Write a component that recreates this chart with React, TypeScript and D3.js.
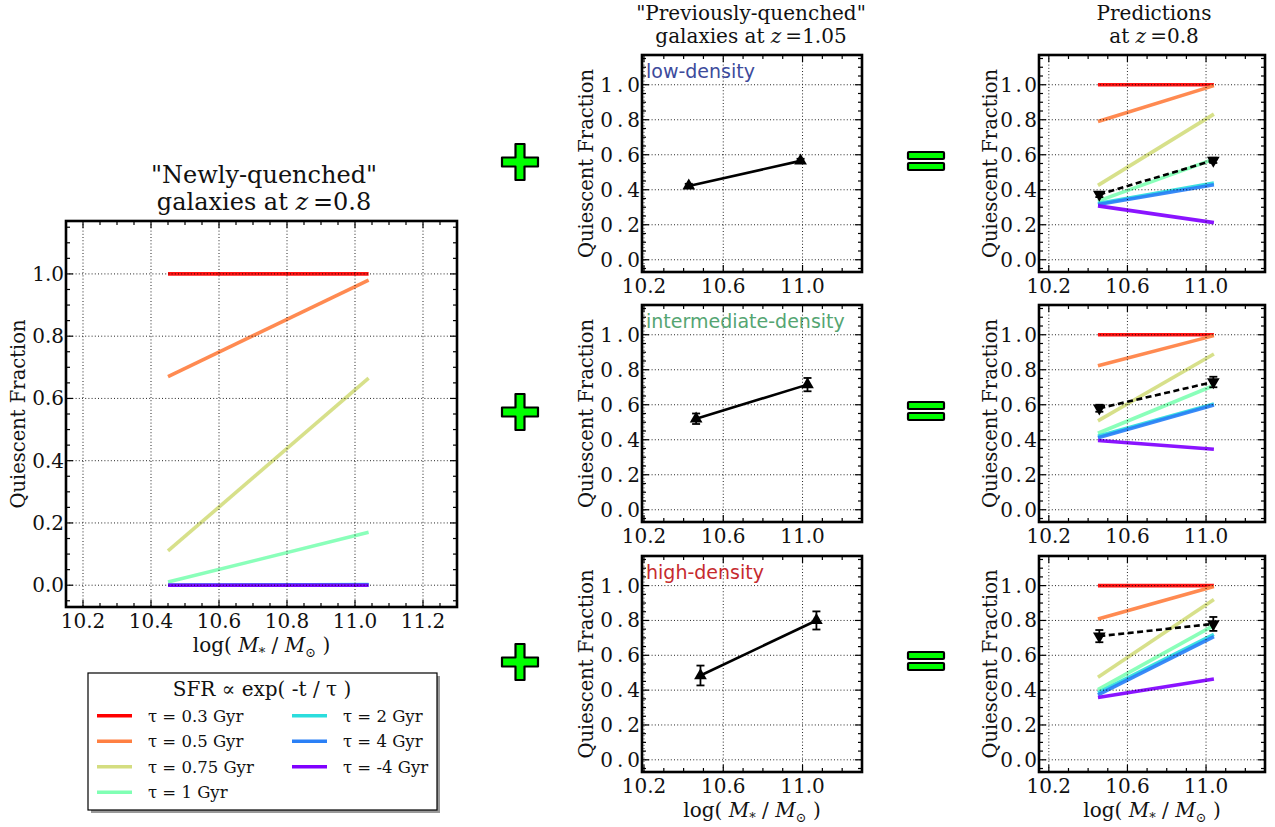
import React from "react";
import * as d3 from "d3";

// ---------------- data ----------------
const TAU_LABELS = ["τ = 0.3 Gyr", "τ = 0.5 Gyr", "τ = 0.75 Gyr", "τ = 1 Gyr", "τ = 2 Gyr", "τ = 4 Gyr", "τ = -4 Gyr"];
const TAU_COLORS = ["#ff0000", "#ff8042", "#d4dd80", "#80ffb4", "#2bdddd", "#2a80f6", "#8000ff"];
const MODEL_MASS = [10.45, 11.04];

const NEWLY_QUENCHED = [
  [1.0, 1.0],
  [0.67, 0.98],
  [0.11, 0.665],
  [0.01, 0.17],
  [0.0, 0.002],
  [0.0, 0.001],
  [0.0, 0.0],
];
const PRED_LOW = [
  [1.0, 1.0],
  [0.79, 0.995],
  [0.425, 0.832],
  [0.335, 0.575],
  [0.322, 0.438],
  [0.316, 0.428],
  [0.308, 0.212],
];
const PRED_MID = [
  [1.0, 1.0],
  [0.823, 0.995],
  [0.508, 0.89],
  [0.437, 0.71],
  [0.42, 0.605],
  [0.412, 0.598],
  [0.396, 0.346],
];
const PRED_HIGH = [
  [1.0, 1.0],
  [0.808, 0.995],
  [0.474, 0.92],
  [0.403, 0.772],
  [0.385, 0.72],
  [0.373, 0.707],
  [0.358, 0.464],
];

const PREV_LOW_MASS = [10.426, 10.99];
const PREV_LOW_FRAC = [0.422, 0.565];
const PREV_LOW_ERR = [0.012, 0.012];
const PREV_MID_MASS = [10.463, 11.025];
const PREV_MID_FRAC = [0.52, 0.715];
const PREV_MID_ERR = [0.03, 0.038];
const PREV_HIGH_MASS = [10.485, 11.07];
const PREV_HIGH_FRAC = [0.484, 0.8];
const PREV_HIGH_ERR = [0.057, 0.052];

const OBS_MASS = [10.457, 11.037];
const OBS_LOW_FRAC = [0.373, 0.568];
const OBS_LOW_ERR = [0.015, 0.015];
const OBS_MID_FRAC = [0.58, 0.73];
const OBS_MID_ERR = [0.02, 0.03];
const OBS_HIGH_FRAC = [0.71, 0.78];
const OBS_HIGH_ERR = [0.035, 0.04];

const DENSITY_LABELS = ["low-density", "intermediate-density", "high-density"];
const DENSITY_COLORS = ["#3d4b9c", "#55a572", "#c62a2e"];

const X_TICKS_WIDE = [10.2, 10.4, 10.6, 10.8, 11.0, 11.2];
const X_TICKS_NARROW = [10.2, 10.6, 11.0];
const Y_TICKS = [0.0, 0.2, 0.4, 0.6, 0.8, 1.0];
const Y_DOMAIN = [-0.07, 1.17];

const SERIF = "'DejaVu Serif', serif";
const SANS = "'DejaVu Sans', sans-serif";

type Series = { mass: number[]; frac: number[]; err: number[]; down: boolean; dashed: boolean };

type PanelProps = {
  x0: number;
  y0: number;
  w: number;
  h: number;
  xDomain: number[];
  xTicks: number[];
  xMinor: number;
  yLetterSpacing: number;
  models?: number[][];
  series?: Series;
  label?: string;
  labelColor?: string;
  yLabelX: number;
  showXLabel: boolean;
};

function MassLabel({ x, y }: { x: number; y: number }) {
  return (
    <text x={x} y={y} textAnchor="middle" fontFamily={SERIF} fontSize={20} fill="#111">
      log(
      <tspan fontStyle="italic">{"\u00a0M"}</tspan>
      <tspan fontSize={13} dy={5}>*</tspan>
      <tspan dy={-5}>{"\u00a0/\u00a0"}</tspan>
      <tspan fontStyle="italic">M</tspan>
      <tspan fontSize={13} dy={5}>⊙</tspan>
      <tspan dy={-5}>{"\u00a0)"}</tspan>
    </text>
  );
}

function Panel(p: PanelProps) {
  const xs = d3.scaleLinear().domain(p.xDomain).range([p.x0, p.x0 + p.w]);
  const ys = d3.scaleLinear().domain(Y_DOMAIN).range([p.y0 + p.h, p.y0]);
  const left = p.x0, right = p.x0 + p.w, top = p.y0, bottom = p.y0 + p.h;
  const xMinorTicks = d3
    .range(Math.ceil(p.xDomain[0] / p.xMinor - 1e-6), Math.floor(p.xDomain[1] / p.xMinor + 1e-6) + 1)
    .map((k) => k * p.xMinor);
  const yMinorTicks = d3.range(-1, 24).map((k) => k * 0.05).filter((v) => v >= Y_DOMAIN[0] && v <= Y_DOMAIN[1]);
  const line = d3.line<[number, number]>().x((d) => xs(d[0])).y((d) => ys(d[1]));
  const tri = d3.symbol(d3.symbolTriangle, 70)() as string;
  const major = 7, minor = 4;
  const cid = `clip-${p.x0}-${p.y0}`;
  return (
    <g>
      <rect x={left} y={top} width={p.w} height={p.h} fill="#fff" />
      <clipPath id={cid}>
        <rect x={left} y={top} width={p.w} height={p.h} />
      </clipPath>
      <g clipPath={`url(#${cid})`}>
        {p.models &&
          p.models.map((vals, i) => (
            <path
              key={i}
              d={line(MODEL_MASS.map((m, j) => [m, vals[j]]) as [number, number][]) as string}
              stroke={TAU_COLORS[i]}
              strokeWidth={3.6}
              fill="none"
              opacity={0.92}
            />
          ))}
        {p.series && (
          <g>
            <path
              d={line(p.series.mass.map((m, j) => [m, p.series!.frac[j]]) as [number, number][]) as string}
              stroke="#000"
              strokeWidth={2.6}
              fill="none"
              strokeDasharray={p.series.dashed ? "6,3.5" : undefined}
            />
            {p.series.mass.map((m, j) => {
              const cx = xs(m);
              const y1 = ys(p.series!.frac[j] + p.series!.err[j]);
              const y2 = ys(p.series!.frac[j] - p.series!.err[j]);
              return (
                <g key={j}>
                  <line x1={cx} x2={cx} y1={y1} y2={y2} stroke="#000" strokeWidth={1.8} />
                  <line x1={cx - 4} x2={cx + 4} y1={y1} y2={y1} stroke="#000" strokeWidth={1.8} />
                  <line x1={cx - 4} x2={cx + 4} y1={y2} y2={y2} stroke="#000" strokeWidth={1.8} />
                  <path
                    d={tri}
                    transform={`translate(${cx},${ys(p.series!.frac[j])}) rotate(${p.series!.down ? 180 : 0})`}
                    fill="#000"
                  />
                </g>
              );
            })}
          </g>
        )}
      </g>
      {/* grid */}
      <g stroke="#000" strokeWidth={1} strokeDasharray="1,2.2" opacity={0.85}>
        {p.xTicks.map((t) => (
          <line key={"gx" + t} x1={xs(t)} x2={xs(t)} y1={top} y2={bottom} />
        ))}
        {Y_TICKS.map((t) => (
          <line key={"gy" + t} x1={left} x2={right} y1={ys(t)} y2={ys(t)} />
        ))}
      </g>
      {/* ticks */}
      <g stroke="#000" strokeWidth={1.2}>
        {xMinorTicks.map((t) => {
          const isMajor = p.xTicks.some((m) => Math.abs(m - t) < 1e-6);
          const L = isMajor ? major : minor;
          return (
            <g key={"tx" + t}>
              <line x1={xs(t)} x2={xs(t)} y1={bottom} y2={bottom - L} />
              <line x1={xs(t)} x2={xs(t)} y1={top} y2={top + L} />
            </g>
          );
        })}
        {yMinorTicks.map((t) => {
          const isMajor = Y_TICKS.some((m) => Math.abs(m - t) < 1e-6);
          const L = isMajor ? major : minor;
          return (
            <g key={"ty" + t}>
              <line x1={left} x2={left + L} y1={ys(t)} y2={ys(t)} />
              <line x1={right} x2={right - L} y1={ys(t)} y2={ys(t)} />
            </g>
          );
        })}
      </g>
      <rect x={left} y={top} width={p.w} height={p.h} fill="none" stroke="#000" strokeWidth={2.6} />
      {/* tick labels */}
      {p.xTicks.map((t) => (
        <text key={"lx" + t} x={xs(t)} y={bottom + 21} textAnchor="middle" fontFamily={SERIF} fontSize={20} fill="#111">
          {t.toFixed(1)}
        </text>
      ))}
      {Y_TICKS.map((t) => (
        <text
          key={"ly" + t}
          x={left - 2 + p.yLetterSpacing}
          y={ys(t) + 7}
          textAnchor="end"
          fontFamily={SERIF}
          fontSize={20}
          letterSpacing={p.yLetterSpacing}
          fill="#111"
        >
          {t.toFixed(1)}
        </text>
      ))}
      <text
        transform={`translate(${p.yLabelX},${(top + bottom) / 2}) rotate(-90)`}
        textAnchor="middle"
        fontFamily={SERIF}
        fontSize={19.5}
        fill="#111"
      >
        Quiescent Fraction
      </text>
      {p.showXLabel && <MassLabel x={(left + right) / 2} y={bottom + 45} />}
      {p.label && (
        <text x={left + 4} y={top + 23} fontFamily={SANS} fontSize={19} fill={p.labelColor}>
          {p.label}
        </text>
      )}
    </g>
  );
}

function Plus({ cx, cy }: { cx: number; cy: number }) {
  const a = 18, b = 4.5;
  const d = `M${cx - b},${cy - a} H${cx + b} V${cy - b} H${cx + a} V${cy + b} H${cx + b} V${cy + a} H${cx - b} V${cy + b} H${cx - a} V${cy - b} H${cx - b} Z`;
  return <path d={d} fill="#00ff00" stroke="#000" strokeWidth={2.2} strokeLinejoin="round" />;
}

function Equals({ cx, cy }: { cx: number; cy: number }) {
  return (
    <g fill="#00ff00" stroke="#000" strokeWidth={2.2}>
      <rect x={cx - 18} y={cy - 9} width={36} height={7} rx={1} />
      <rect x={cx - 18} y={cy + 2} width={36} height={7} rx={1} />
    </g>
  );
}

export default function App() {
  const rows = [
    { y0: 55, h: 217 },
    { y0: 305, h: 217 },
    { y0: 556, h: 216 },
  ];
  const prev: Series[] = [
    { mass: PREV_LOW_MASS, frac: PREV_LOW_FRAC, err: PREV_LOW_ERR, down: false, dashed: false },
    { mass: PREV_MID_MASS, frac: PREV_MID_FRAC, err: PREV_MID_ERR, down: false, dashed: false },
    { mass: PREV_HIGH_MASS, frac: PREV_HIGH_FRAC, err: PREV_HIGH_ERR, down: false, dashed: false },
  ];
  const obs: Series[] = [
    { mass: OBS_MASS, frac: OBS_LOW_FRAC, err: OBS_LOW_ERR, down: true, dashed: true },
    { mass: OBS_MASS, frac: OBS_MID_FRAC, err: OBS_MID_ERR, down: true, dashed: true },
    { mass: OBS_MASS, frac: OBS_HIGH_FRAC, err: OBS_HIGH_ERR, down: true, dashed: true },
  ];
  const preds = [PRED_LOW, PRED_MID, PRED_HIGH];

  const legendX = [
    [97, 132, 148],
    [292, 327, 343],
  ];

  return (
    <div style={{ position: "absolute", left: 0, top: 0 }}>
      <svg width={1275} height={827} style={{ display: "block", background: "#fff" }}>
        {/* Left panel */}
        <text x={264} y={183} textAnchor="middle" fontFamily={SERIF} fontSize={24} fill="#111">
          "Newly-quenched"
        </text>
        <text x={264} y={210} textAnchor="middle" fontFamily={SERIF} fontSize={24} fill="#111">
          galaxies at <tspan fontStyle="italic">z</tspan>
          <tspan>{"\u2009=0.8"}</tspan>
        </text>
        <Panel
          x0={66}
          y0={221}
          w={391}
          h={386}
          xDomain={[10.15, 11.3]}
          xTicks={X_TICKS_WIDE}
          xMinor={0.05}
          yLetterSpacing={0}
          models={NEWLY_QUENCHED}
          yLabelX={25}
          showXLabel={true}
        />

        {/* Legend */}
        <rect x={91} y={676} width={349} height={137} fill="#999" />
        <rect x={88} y={673} width={349} height={137} fill="#fff" stroke="#000" strokeWidth={1.2} />
        <text x={262} y={696} textAnchor="middle" fontFamily={SERIF} fontSize={20} fill="#111">
          SFR ∝ exp( -t / τ )
        </text>
        {TAU_LABELS.map((lab, i) => {
          const col = i < 4 ? 0 : 1;
          const row = i < 4 ? i : i - 4;
          const y = 715.7 + row * 25.5;
          return (
            <g key={lab}>
              <line x1={legendX[col][0]} x2={legendX[col][1]} y1={y} y2={y} stroke={TAU_COLORS[i]} strokeWidth={3.6} />
              <text x={legendX[col][2]} y={y + 6} fontFamily={SERIF} fontSize={16.5} fill="#111">
                {lab}
              </text>
            </g>
          );
        })}

        {/* Middle column */}
        <text x={751} y={20} textAnchor="middle" fontFamily={SERIF} fontSize={20} fill="#111">
          "Previously-quenched"
        </text>
        <text x={751} y={43} textAnchor="middle" fontFamily={SERIF} fontSize={20} fill="#111">
          galaxies at <tspan fontStyle="italic">z</tspan>
          <tspan>{"\u2009=1.05"}</tspan>
        </text>
        {rows.map((r, i) => (
          <Panel
            key={"m" + i}
            x0={642}
            y0={r.y0}
            w={220}
            h={r.h}
            xDomain={[10.19, 11.3]}
            xTicks={X_TICKS_NARROW}
            xMinor={0.1}
            yLetterSpacing={4}
            series={prev[i]}
            label={DENSITY_LABELS[i]}
            labelColor={DENSITY_COLORS[i]}
            yLabelX={593}
            showXLabel={i === 2}
          />
        ))}

        {/* Right column */}
        <text x={1154} y={20} textAnchor="middle" fontFamily={SERIF} fontSize={20} fill="#111">
          Predictions
        </text>
        <text x={1154} y={43} textAnchor="middle" fontFamily={SERIF} fontSize={20} fill="#111">
          at <tspan fontStyle="italic">z</tspan>
          <tspan>{"\u2009=0.8"}</tspan>
        </text>
        {rows.map((r, i) => (
          <Panel
            key={"r" + i}
            x0={1039}
            y0={r.y0}
            w={226}
            h={r.h}
            xDomain={[10.15, 11.3]}
            xTicks={X_TICKS_NARROW}
            xMinor={0.1}
            yLetterSpacing={2.5}
            models={preds[i]}
            series={obs[i]}
            yLabelX={997}
            showXLabel={i === 2}
          />
        ))}

        {/* operators */}
        {[162, 412, 662].map((cy) => (
          <Plus key={"p" + cy} cx={520} cy={cy} />
        ))}
        {[161, 411, 661].map((cy) => (
          <Equals key={"e" + cy} cx={926} cy={cy} />
        ))}
      </svg>
    </div>
  );
}
